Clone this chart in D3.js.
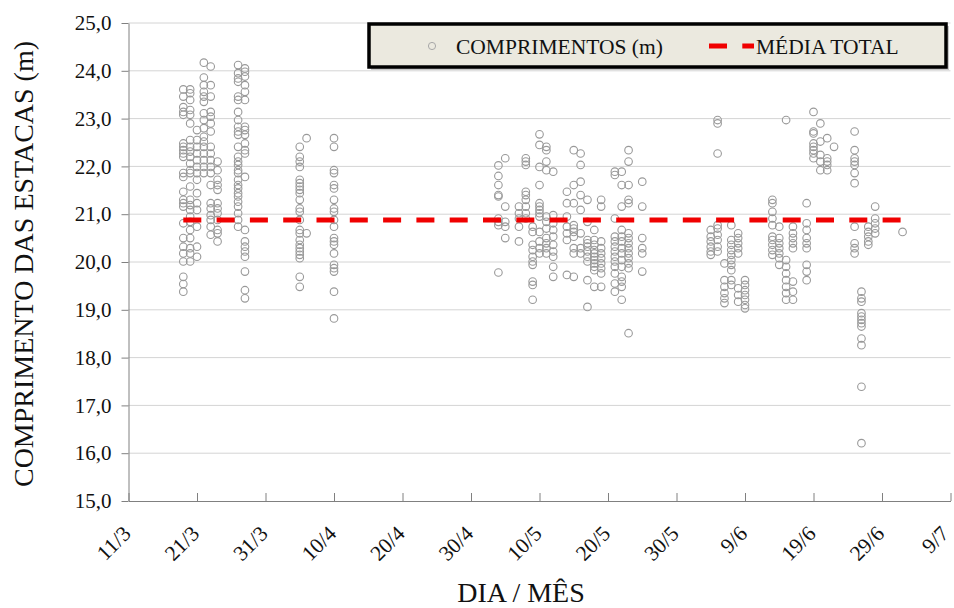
<!DOCTYPE html>
<html>
<head>
<meta charset="utf-8">
<script src="https://cdn.jsdelivr.net/npm/d3@7"></script>
<style>
  html, body { margin: 0; padding: 0; background: #fff; }
  svg { display: block; font-family: "Liberation Serif", "Times New Roman", serif; }
</style>
</head>
<body>
<svg id="chart" width="954" height="608"></svg>
<script>
// ---------- DATA ----------
const xTickLabels = ["11/3","21/3","31/3","10/4","20/4","30/4","10/5","20/5","30/5","9/6","19/6","29/6","9/7"];
const yTickValues = [15,16,17,18,19,20,21,22,23,24,25];

const pileDates = ["19/3","20/3","21/3","22/3","23/3","24/3","27/3","28/3",
  "5/4","6/4","10/4",
  "4/5","5/5","7/5","8/5","9/5","10/5","11/5","12/5","14/5","15/5","16/5","17/5","18/5","19/5","21/5","22/5","23/5","25/5",
  "4/6","5/6","6/6","7/6","8/6","9/6","13/6","14/6","15/6","16/6","18/6","19/6","20/6","21/6","22/6","25/6","26/6","27/6","28/6","2/7"];

const pileLengths = [
  [23.61,23.46,23.24,23.14,23.08,22.48,22.41,22.34,22.27,22.20,21.86,21.78,21.47,21.30,21.23,21.16,20.81,20.50,20.32,20.18,20.01,19.69,19.54,19.38],
  [23.61,23.53,23.39,23.18,23.08,22.90,22.55,22.41,22.31,22.20,22.06,21.92,21.86,21.58,21.30,21.19,21.09,20.95,20.84,20.67,20.50,20.29,20.18,20.01],
  [22.76,22.55,22.41,22.27,22.13,21.99,21.86,21.72,21.44,21.23,21.09,20.74,20.32,20.11],
  [24.17,23.86,23.70,23.56,23.46,23.35,23.11,22.97,22.80,22.62,22.52,22.41,22.27,22.13,21.99,21.86],
  [24.09,23.70,23.46,23.14,23.04,22.90,22.73,22.41,22.27,22.13,21.99,21.86,21.61,21.23,21.12,20.98,20.88,20.74,20.57],
  [22.10,21.92,21.72,21.61,21.51,21.23,21.12,21.02,20.88,20.67,20.60,20.43],
  [24.12,23.95,23.84,23.77,23.46,23.39,23.14,22.97,22.83,22.73,22.66,22.41,22.20,22.10,22.03,21.92,21.86,21.72,21.61,21.54,21.44,21.37,21.26,21.16,21.02,20.88,20.74],
  [24.05,23.98,23.88,23.70,23.56,23.39,22.83,22.76,22.66,22.48,22.34,22.27,21.78,20.67,20.43,20.32,20.22,20.11,19.80,19.41,19.24],
  [22.41,22.20,22.10,21.99,21.72,21.65,21.58,21.51,21.44,21.30,21.12,21.05,20.88,20.67,20.60,20.46,20.36,20.29,20.22,20.15,20.08,19.69,19.48],
  [22.59,20.60],
  [22.59,22.41,21.92,21.86,21.61,21.54,21.30,21.12,21.05,20.88,20.74,20.50,20.43,20.36,20.18,19.94,19.87,19.80,19.38,18.82],
  [22.02,21.80,21.61,21.40,21.37,20.91,20.84,20.77,19.78],
  [22.17,21.16,20.84,20.74,20.50],
  [21.16,21.02,20.91,20.74,20.43],
  [22.17,22.10,22.03,21.47,21.40,21.30,21.16,21.02,20.91],
  [20.74,20.63,20.36,20.25,20.11,20.01,19.94,19.59,19.52,19.21],
  [22.67,22.45,21.99,21.61,21.23,21.16,21.09,21.02,20.95,20.63,20.43,20.29,20.18],
  [22.41,22.34,22.10,21.92,20.95,20.84,20.70,20.50,20.39,20.29,20.18],
  [21.89,20.98,20.81,20.67,20.53,20.36,20.22,20.11,19.90,19.69],
  [21.47,21.23,20.95,20.74,20.60,20.46,19.73],
  [22.34,21.61,21.23,20.77,20.70,20.63,20.53,20.29,20.18,19.69],
  [22.27,22.03,21.68,21.40,21.09,20.60,20.29,20.18],
  [21.30,20.84,20.46,20.39,20.32,20.22,20.11,20.01,19.62,19.06],
  [20.67,20.46,20.36,20.25,20.18,20.11,20.04,19.97,19.90,19.83,19.48],
  [21.30,21.16,20.43,20.29,20.18,20.08,19.97,19.87,19.76,19.48],
  [21.89,21.82,20.91,20.53,20.43,20.32,20.22,20.11,20.01,19.90,19.76,19.55,19.38],
  [21.89,21.61,21.16,20.67,20.53,20.43,20.29,20.18,20.04,19.90,19.69,19.59,19.48,19.21],
  [22.34,22.10,21.61,21.30,21.23,20.60,20.50,20.39,20.29,20.18,20.08,19.97,19.87,18.51],
  [21.68,21.16,20.50,20.29,20.18,19.80],
  [20.67,20.53,20.43,20.32,20.22,20.15],
  [22.97,22.90,22.27,20.77,20.70,20.57,20.46,20.32,20.22],
  [19.97,19.62,19.48,19.35,19.24,19.14],
  [20.77,20.46,20.36,20.25,20.15,20.04,19.94,19.83,19.62,19.52],
  [20.60,20.50,20.39,20.29,20.18,19.45,19.31,19.17],
  [19.62,19.52,19.41,19.31,19.21,19.10,19.03],
  [21.30,21.23,21.05,20.91,20.77,20.53,20.46,20.36,20.25,20.15],
  [20.74,20.50,20.39,20.29,20.18,20.08,19.94],
  [22.97,20.04,19.90,19.76,19.62,19.48,19.35,19.21],
  [20.74,20.60,20.50,20.39,20.29,19.59,19.38,19.21],
  [21.23,20.81,20.67,20.50,20.39,20.29,19.94,19.80,19.62],
  [23.14,22.73,22.69,22.48,22.41,22.34,22.27,22.17],
  [22.90,22.52,22.24,22.10,21.92],
  [22.59,22.17,22.10,22.03,21.92],
  [22.41],
  [22.73,22.34,22.17,22.10,22.03,21.86,21.65,20.74,20.39,20.29,20.18],
  [19.38,19.24,19.17,18.93,18.86,18.79,18.72,18.65,18.40,18.26,17.39,16.21],
  [20.74,20.63,20.53,20.43,20.36],
  [21.16,20.91,20.81,20.70,20.60],
  [20.63]
];

const mediaTotal = 20.88;
const seriesNames = ["COMPRIMENTOS (m)", "MÉDIA TOTAL"];
const xTitle = "DIA / MÊS";
const yTitle = "COMPRIMENTO DAS ESTACAS (m)";

// ---------- SETUP ----------
const parseDM = s => { const [d, m] = s.split("/").map(Number); return new Date(Date.UTC(2013, m - 1, d)); };
const points = [];
pileDates.forEach((ds, i) => pileLengths[i].forEach(v => points.push({ date: parseDM(ds), value: v })));
const tickDates = xTickLabels.map(parseDM);

const L = 128.5, R = 950.5, T = 23, B = 501;
const svg = d3.select("#chart");

const x = d3.scaleUtc().domain([tickDates[0], tickDates[tickDates.length - 1]]).range([L, R]);
const y = d3.scaleLinear().domain([15, 25]).range([B, T]);

const locale = d3.formatLocale({ decimal: ",", thousands: ".", grouping: [3], currency: ["", ""] });
const fmtY = locale.format(".1f");
const fmtX = d => `${d.getUTCDate()}/${d.getUTCMonth() + 1}`;

// gridlines
svg.append("g").selectAll("line")
  .data(yTickValues.filter(v => v > 15))
  .join("line")
  .attr("x1", L).attr("x2", R)
  .attr("y1", d => y(d)).attr("y2", d => y(d))
  .attr("stroke", "#d4d4d4").attr("stroke-width", 1);

// points
svg.append("g").selectAll("circle")
  .data(points)
  .join("circle")
  .attr("cx", d => x(d.date))
  .attr("cy", d => y(d.value))
  .attr("r", 3.8)
  .attr("fill", "none")
  .attr("stroke", "#999999")
  .attr("stroke-width", 1.1);

// mean line
const firstDate = d3.min(points, d => d.date), lastDate = d3.max(points, d => d.date);
svg.append("line")
  .attr("x1", x(firstDate)).attr("x2", x(lastDate))
  .attr("y1", y(mediaTotal)).attr("y2", y(mediaTotal))
  .attr("stroke", "#f00000").attr("stroke-width", 5)
  .attr("stroke-dasharray", "18,15.3");

// y axis
const yAxis = svg.append("g").attr("transform", `translate(${L},0)`)
  .call(d3.axisLeft(y).tickValues(yTickValues).tickFormat(fmtY).tickSize(7).tickPadding(10).tickSizeOuter(0));
yAxis.select(".domain").attr("stroke", "#808080");
yAxis.selectAll(".tick line").attr("stroke", "#808080");
yAxis.selectAll("text").attr("font-family", "Liberation Serif").attr("font-size", 21).attr("fill", "#111");

// x axis
const xAxis = svg.append("g").attr("transform", `translate(0,${B})`)
  .call(d3.axisBottom(x).tickValues(tickDates).tickFormat(fmtX).tickSize(-8).tickSizeOuter(0));
xAxis.select(".domain").attr("stroke", "#808080");
xAxis.selectAll(".tick line").attr("stroke", "#808080");
const nT = tickDates.length;
xAxis.selectAll("text")
  .attr("font-family", "Liberation Serif").attr("font-size", 21.5).attr("fill", "#111")
  .attr("y", 0).attr("dy", 0)
  .attr("text-anchor", "end")
  .attr("transform", (d, i) => i === nT - 1 ? "translate(-1,34) rotate(-45)" : "translate(3,34) rotate(-45)");

// axis titles
svg.append("text")
  .attr("x", 521).attr("y", 602)
  .attr("text-anchor", "middle")
  .attr("font-size", 28).attr("fill", "#111")
  .text(xTitle);
svg.append("text")
  .attr("transform", `translate(33,${(T + B) / 2 + 2}) rotate(-90)`)
  .attr("text-anchor", "middle")
  .attr("font-size", 28).attr("fill", "#111")
  .text(yTitle);

// legend
const lg = svg.append("g");
lg.append("rect").attr("x", 371).attr("y", 26).attr("width", 578).attr("height", 44).attr("fill", "#c9c9c9");
lg.append("rect").attr("x", 369).attr("y", 24).attr("width", 577).attr("height", 43)
  .attr("fill", "#ebe9df").attr("stroke", "#000").attr("stroke-width", 3.5);
lg.append("circle").attr("cx", 432).attr("cy", 46).attr("r", 3.6)
  .attr("fill", "none").attr("stroke", "#a8a8a8").attr("stroke-width", 1);
lg.append("text").attr("x", 456).attr("y", 53.5).attr("font-size", 21.5).attr("fill", "#111").text(seriesNames[0]);
lg.append("line").attr("x1", 709).attr("x2", 754).attr("y1", 46).attr("y2", 46)
  .attr("stroke", "#f00000").attr("stroke-width", 5).attr("stroke-dasharray", "18,15.3");
lg.append("text").attr("x", 756).attr("y", 53.5).attr("font-size", 21.5).attr("fill", "#111").text(seriesNames[1]);
</script>
</body>
</html>
